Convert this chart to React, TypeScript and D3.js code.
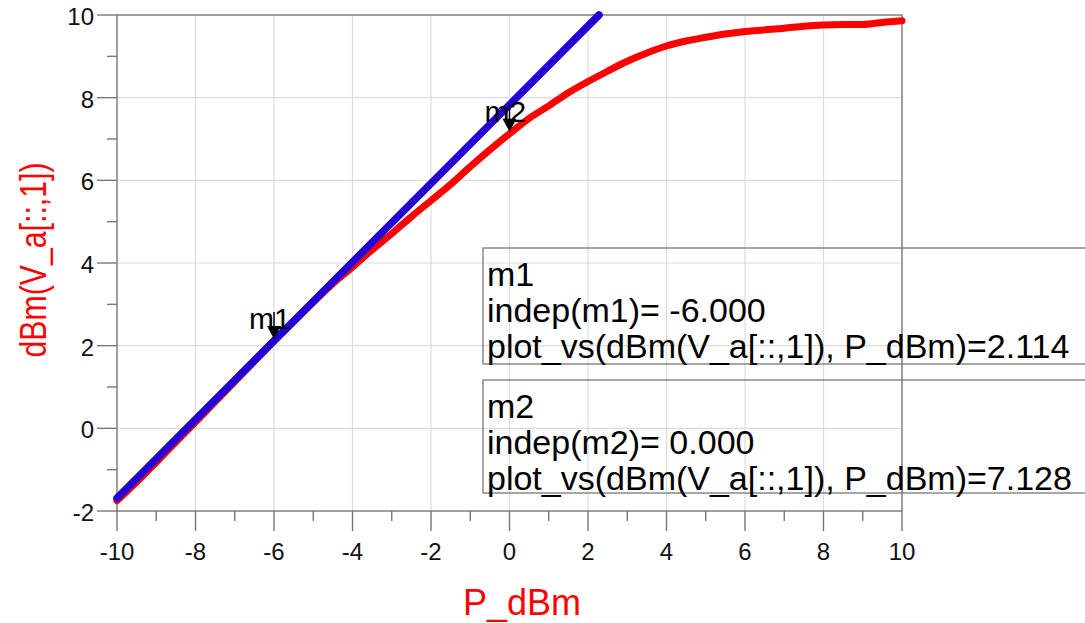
import * as d3 from "d3";
import React from "react";

const width = 1085;
const height = 623;
const plot = { left: 117, right: 902, top: 15, bottom: 511 };

// measured curve, P_dBm vs dBm(V_a[::,1])
const pIn = [-10, -9.5, -9, -8.5, -8, -7.5, -7, -6.5, -6, -5.5, -5, -4.5, -4, -3.5, -3, -2.5, -2, -1.5, -1, -0.5,
  0, 0.5, 1, 1.5, 2, 2.5, 3, 3.5, 4, 4.5, 5, 5.5, 6, 6.5, 7, 7.5, 8, 8.5, 9, 9.5, 10];
const vOut = [-1.75, -1.3, -0.82, -0.33, 0.15, 0.64, 1.13, 1.62, 2.114, 2.58, 3.05, 3.5, 3.9, 4.32, 4.71, 5.12, 5.51, 5.9, 6.33, 6.74,
  7.128, 7.5, 7.8, 8.12, 8.39, 8.64, 8.88, 9.08, 9.25, 9.37, 9.46, 9.54, 9.6, 9.64, 9.68, 9.73, 9.76, 9.77, 9.77, 9.82, 9.86];

// linear reference line
const lineX = [-10, 2.28];
const lineY = [-1.69, 10];

const xTicks = [-10, -8, -6, -4, -2, 0, 2, 4, 6, 8, 10];
const yTicks = [-2, 0, 2, 4, 6, 8, 10];
const xMinor = [-9, -7, -5, -3, -1, 1, 3, 5, 7, 9];
const yMinor = [-1, 1, 3, 5, 7, 9];

const markerNames = ["m1", "m2"];
const markerX = [-6, 0];
const markerY = [2.114, 7.128];

const frame = "#777777";
const grid = "#dcdcdc";
const font = "'Liberation Sans', Arial, sans-serif";

export default function App() {
  const x = d3.scaleLinear().domain([-10, 10]).range([plot.left, plot.right]);
  const y = d3.scaleLinear().domain([-2, 10]).range([plot.bottom, plot.top]);

  const line = d3.line<[number, number]>()
    .x((d) => x(d[0]))
    .y((d) => y(d[1]))
    .curve(d3.curveMonotoneX);

  const redPts = pIn.map((p, i) => [p, vOut[i]] as [number, number]);
  const bluePts = lineX.map((p, i) => [p, lineY[i]] as [number, number]);

  const boxes = markerNames.map((m, i) => [
    m,
    "indep(" + m + ")= " + markerX[i].toFixed(3),
    "plot_vs(dBm(V_a[::,1]), P_dBm)=" + markerY[i].toFixed(3),
  ]);
  const boxTop = [248, 380];
  const boxH = [116, 113];

  return (
    <svg width={width} height={height} style={{ position: "absolute", left: 0, top: 0, background: "#fff" }}
      fontFamily={font}>
      {/* grid */}
      {xTicks.slice(1, -1).map((t) => (
        <line key={"gx" + t} x1={x(t)} x2={x(t)} y1={plot.top} y2={plot.bottom} stroke={grid} strokeWidth={1.2} />
      ))}
      {yTicks.slice(1, -1).map((t) => (
        <line key={"gy" + t} x1={plot.left} x2={plot.right} y1={y(t)} y2={y(t)} stroke={grid} strokeWidth={1.2} />
      ))}

      {/* frame + ticks */}
      <rect x={plot.left} y={plot.top} width={plot.right - plot.left} height={plot.bottom - plot.top}
        fill="none" stroke={frame} strokeWidth={1.4} />
      {xTicks.map((t) => (
        <line key={"tx" + t} x1={x(t)} x2={x(t)} y1={plot.bottom} y2={plot.bottom + 20} stroke={frame} strokeWidth={1.4} />
      ))}
      {xMinor.map((t) => (
        <line key={"mx" + t} x1={x(t)} x2={x(t)} y1={plot.bottom} y2={plot.bottom + 10} stroke={frame} strokeWidth={1.4} />
      ))}
      {yTicks.map((t) => (
        <line key={"ty" + t} x1={plot.left - 20} x2={plot.left} y1={y(t)} y2={y(t)} stroke={frame} strokeWidth={1.4} />
      ))}
      {yMinor.map((t) => (
        <line key={"my" + t} x1={plot.left - 10} x2={plot.left} y1={y(t)} y2={y(t)} stroke={frame} strokeWidth={1.4} />
      ))}

      {/* tick labels */}
      {xTicks.map((t) => (
        <text key={"lx" + t} x={x(t)} y={560} textAnchor="middle" fontSize={24} fill="#111">{t}</text>
      ))}
      {yTicks.map((t) => (
        <text key={"ly" + t} x={94} y={y(t) + 10} textAnchor="end" fontSize={24} fill="#111">{t}</text>
      ))}

      {/* axis titles */}
      <text x={522} y={615} textAnchor="middle" fontSize={36} fill="#ff0000">P_dBm</text>
      <text transform={"translate(46,260) rotate(-90)"} textAnchor="middle" fontSize={37} fill="#ff0000"
        textLength={195} lengthAdjust="spacingAndGlyphs">dBm(V_a[::,1])</text>

      {/* traces */}
      <path d={line(redPts) || ""} fill="none" stroke="#ff0000" strokeWidth={7} strokeLinecap="round" strokeLinejoin="round" />
      <path d={line(bluePts) || ""} fill="none" stroke="#2400d2" strokeWidth={7.5} strokeLinecap="round" />

      {/* markers */}
      {markerNames.map((m, i) => {
        const px = x(markerX[i]);
        const py = y(markerY[i]) - 2;
        return (
          <g key={m}>
            <line x1={px} x2={px} y1={py - 27} y2={py - 12} stroke="#000" strokeWidth={1.5} />
            <path d={`M${px - 7},${py - 13}L${px + 7},${py - 13}L${px},${py}Z`} fill="#000" />
            <text x={px - 25} y={py - 10} fontSize={30} fill="#000">{m}</text>
          </g>
        );
      })}

      {/* marker readout boxes */}
      {boxes.map((lines, i) => (
        <g key={"box" + i}>
          <rect x={483} y={boxTop[i]} width={700} height={boxH[i]} fill="none" stroke={frame} strokeWidth={1.3} />
          {lines.map((s, j) => (
            <text key={j} x={487} y={boxTop[i] + 38 + j * 36} fontSize={34} fill="#000">{s}</text>
          ))}
        </g>
      ))}
    </svg>
  );
}
